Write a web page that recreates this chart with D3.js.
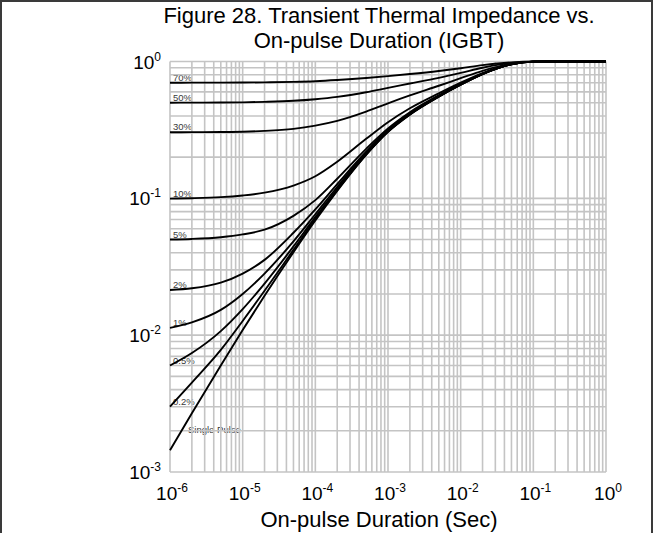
<!DOCTYPE html>
<html>
<head>
<meta charset="utf-8">
<script src="https://cdn.jsdelivr.net/npm/d3@7"></script>
<style>
  html, body { margin: 0; padding: 0; background: #fff; }
  svg { display: block; font-family: "Liberation Sans", Arial, sans-serif; }
</style>
</head>
<body>
<svg id="chart" width="656" height="533"></svg>
<script>
// Pulse durations (s) at which each curve is sampled
const pulseTimes = [1e-6, 2e-6, 5e-6, 1e-5, 2e-5, 5e-5, 1e-4, 2e-4, 5e-4, 1e-3,
                    2e-3, 5e-3, 1e-2, 2e-2, 5e-2, 1e-1, 2e-1, 5e-1, 1];

// Normalised transient thermal impedance, one array per duty cycle
const zSingle = [0.00144, 0.00269, 0.00601, 0.01091, 0.01941, 0.0404, 0.0689, 0.1135, 0.208, 0.306,
                 0.409, 0.553, 0.676, 0.809, 0.955, 0.998, 1, 1, 1];
const zD02 = [0.0030, 0.0045, 0.0078, 0.0127, 0.0211, 0.0420, 0.0705, 0.115, 0.209, 0.307,
              0.410, 0.554, 0.677, 0.809, 0.955, 0.998, 1, 1, 1];
const zD05 = [0.0060, 0.0074, 0.0107, 0.0155, 0.0238, 0.0445, 0.0728, 0.117, 0.211, 0.309,
              0.412, 0.556, 0.678, 0.810, 0.955, 0.998, 1, 1, 1];
const zD1 = [0.0113, 0.0124, 0.0153, 0.0200, 0.0282, 0.0485, 0.0765, 0.121, 0.214, 0.312,
             0.414, 0.557, 0.679, 0.811, 0.956, 0.998, 1, 1, 1];
const zD2 = [0.0214, 0.0220, 0.0242, 0.0282, 0.0355, 0.0560, 0.0830, 0.127, 0.219, 0.316,
             0.418, 0.560, 0.682, 0.812, 0.956, 0.998, 1, 1, 1];
const zD5 = [0.0500, 0.0505, 0.0520, 0.0545, 0.0590, 0.0745, 0.0970, 0.139, 0.230, 0.324,
             0.426, 0.566, 0.688, 0.817, 0.957, 0.998, 1, 1, 1];
const zD10 = [0.0995, 0.1002, 0.1020, 0.1050, 0.1100, 0.124, 0.145, 0.185, 0.272, 0.360,
              0.455, 0.585, 0.700, 0.823, 0.958, 0.998, 1, 1, 1];
const zD30 = [0.304, 0.3045, 0.305, 0.307, 0.311, 0.322, 0.340, 0.368, 0.430, 0.495,
              0.565, 0.665, 0.755, 0.855, 0.965, 0.998, 1, 1, 1];
const zD50 = [0.500, 0.5005, 0.501, 0.503, 0.507, 0.516, 0.530, 0.551, 0.596, 0.642,
              0.690, 0.760, 0.825, 0.900, 0.975, 0.998, 1, 1, 1];
const zD70 = [0.700, 0.7003, 0.701, 0.702, 0.704, 0.710, 0.718, 0.732, 0.757, 0.782,
              0.810, 0.853, 0.893, 0.940, 0.985, 0.999, 1, 1, 1];

const seriesLabels = ["Single Pulse", "0.2%", "0.5%", "1%", "2%", "5%", "10%", "30%", "50%", "70%"];
const seriesValues = [zSingle, zD02, zD05, zD1, zD2, zD5, zD10, zD30, zD50, zD70];

const xTickExponents = [-6, -5, -4, -3, -2, -1, 0];
const yTickExponents = [-3, -2, -1, 0];

const titleLines = ["Figure 28. Transient Thermal Impedance vs.", "On-pulse Duration (IGBT)"];
const xAxisTitle = "On-pulse Duration (Sec)";

// ---- layout ----
const svg = d3.select("#chart");
const W = 656, H = 533;
const plot = { left: 170, right: 606, top: 61.5, bottom: 472 };

const x = d3.scaleLog().domain([1e-6, 1]).range([plot.left, plot.right]);
const y = d3.scaleLog().domain([1e-3, 1]).range([plot.bottom, plot.top]);

// outer frame
svg.append("path")
  .attr("d", `M1,${H} V1 H652 V${H}`)
  .attr("fill", "none")
  .attr("stroke", "#3a3a3a")
  .attr("stroke-width", 2);

// title
const title = svg.append("text")
  .attr("text-anchor", "middle")
  .attr("font-size", 22)
  .attr("fill", "#000");
titleLines.forEach((t, i) => {
  title.append("tspan").attr("x", 379).attr("y", 23 + i * 25).text(t);
});

// curve labels (drawn first so the grid and curves sit over them)
const labelG = svg.append("g").attr("font-size", 9.5).attr("fill", "#3a3a3a");
seriesLabels.forEach((lab, i) => {
  const v0 = seriesValues[i][0];
  if (lab === "Single Pulse") {
    labelG.append("text").attr("x", 188).attr("y", y(v0) - 17).text(lab);
  } else {
    labelG.append("text").attr("x", plot.left + 3).attr("y", y(v0) - 2).text(lab);
  }
});

// grid lines: every 1..9 multiple in each decade
const gridG = svg.append("g").attr("stroke", "#c4c4c4").attr("stroke-width", 1.6);
const xGrid = [];
for (let e = -6; e < 0; e++) for (let k = 1; k <= 9; k++) xGrid.push(k * Math.pow(10, e));
xGrid.push(1);
const yGrid = [];
for (let e = -3; e < 0; e++) for (let k = 1; k <= 9; k++) yGrid.push(k * Math.pow(10, e));
yGrid.push(1);

gridG.selectAll("line.v").data(xGrid).join("line")
  .attr("x1", d => x(d)).attr("x2", d => x(d))
  .attr("y1", plot.top).attr("y2", plot.bottom);
gridG.selectAll("line.h").data(yGrid).join("line")
  .attr("x1", plot.left).attr("x2", plot.right)
  .attr("y1", d => y(d)).attr("y2", d => y(d));

// impedance curves
const line = d3.line()
  .x(d => x(d[0]))
  .y(d => y(d[1]))
  .curve(d3.curveMonotoneX);

svg.append("g").selectAll("path").data(seriesValues).join("path")
  .attr("d", vals => line(pulseTimes.map((t, i) => [t, vals[i]])))
  .attr("fill", "none")
  .attr("stroke", "#000")
  .attr("stroke-width", 1.9);

// tick labels as powers of ten
function powerLabel(g, e, anchor) {
  const t = g.append("text").attr("fill", "#000").attr("text-anchor", anchor);
  t.append("tspan").attr("font-size", 19).text("10");
  t.append("tspan").attr("font-size", 12).attr("dy", -8).text(String(e));
  return t;
}

const yAxisG = svg.append("g");
yTickExponents.forEach(e => {
  powerLabel(yAxisG, e, "end")
    .attr("x", 161)
    .attr("y", y(Math.pow(10, e)) + 7);
});

const xAxisG = svg.append("g");
xTickExponents.forEach(e => {
  powerLabel(xAxisG, e, "middle")
    .attr("x", x(Math.pow(10, e)) + 2)
    .attr("y", 500);
});

svg.append("text")
  .attr("x", 379).attr("y", 527)
  .attr("text-anchor", "middle")
  .attr("font-size", 22)
  .text(xAxisTitle);
</script>
</body>
</html>
